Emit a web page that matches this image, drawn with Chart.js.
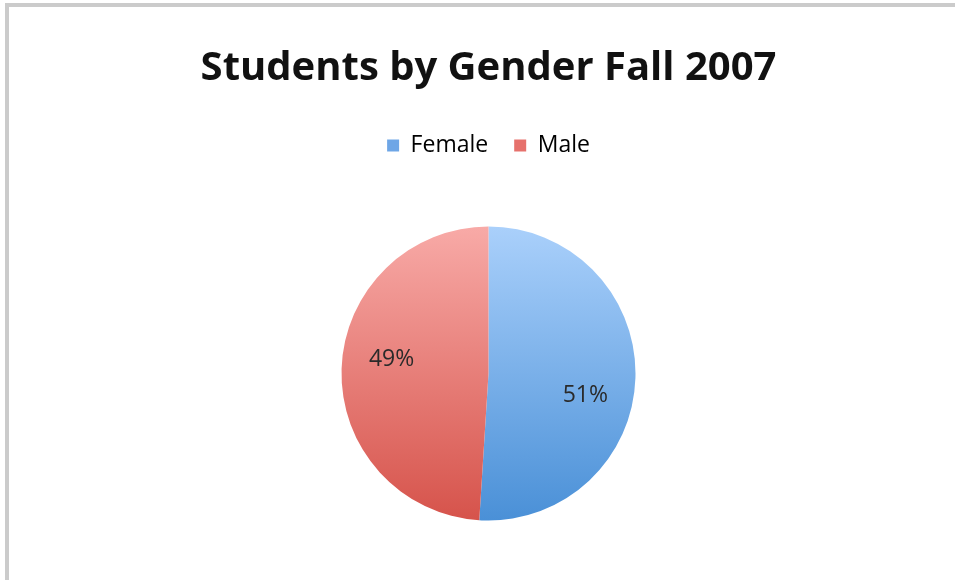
<!DOCTYPE html>
<html>
<head>
<meta charset="utf-8">
<script src="https://cdn.jsdelivr.net/npm/chart.js@4"></script>
<style>
  body { margin: 0; background: #fff; }
  #frame {
    position: absolute; left: 5px; top: 3px; width: 960px; height: 573px;
    border-top: 4px solid #cbcbcb; border-left: 4px solid #cbcbcb;
    border-bottom: 2px solid #e4e4e4;
  }
  #canvas { position: absolute; left: 0; top: 0; }
</style>
</head>
<body>
<div id="frame"></div>
<canvas id="canvas" width="955" height="580"></canvas>
<script>
var categories = ['Female', 'Male'];
var shares = [51, 49];
var topColors = ['#aad0fb', '#f8aaa7'];
var bottomColors = ['#4a90d7', '#d6534b'];
var legendColors = ['#6ea6e6', '#e6716c'];
var pieRadius = 147;

// fill each slice with a vertical gradient over the whole pie
var sliceFill = function(context){
    var chart = context.chart;
    var area = chart.chartArea;
    if (!area) return legendColors[context.dataIndex];
    var cy = (area.top + area.bottom) / 2;
    var g = chart.ctx.createLinearGradient(0, cy - pieRadius, 0, cy + pieRadius);
    g.addColorStop(0, topColors[context.dataIndex]);
    g.addColorStop(1, bottomColors[context.dataIndex]);
    return g;
};

// percent labels inside the slices
var pctLabels = {
    id: 'pctLabels',
    afterDatasetsDraw: function(chart){
        var ctx = chart.ctx;
        var meta = chart.getDatasetMeta(0);
        var total = shares.reduce(function(a, b){ return a + b; }, 0);
        ctx.save();
        ctx.font = '23px "Open Sans"';
        ctx.fillStyle = '#2a2a2a';
        ctx.textAlign = 'center';
        ctx.textBaseline = 'middle';
        meta.data.forEach(function(arc, i){
            var mid = (arc.startAngle + arc.endAngle) / 2 + 0.15;
            var r = arc.outerRadius * 0.67;
            var x = arc.x + Math.cos(mid) * r;
            var y = arc.y + Math.sin(mid) * r + 4;
            ctx.fillText(Math.round(shares[i] / total * 100) + '%', x, y);
        });
        ctx.restore();
    }
};

var ctx = document.getElementById('canvas').getContext('2d');
var chart = new Chart(ctx, {
    type: 'pie',
    data: {
        labels: categories,
        datasets: [{
            data: shares,
            backgroundColor: sliceFill,
            borderWidth: 0,
            radius: pieRadius
        }]
    },
    options: {
        responsive: false,
        animation: false,
        layout: { padding: { left: 22, top: 0, bottom: 0 } },
        plugins: {
            title: {
                display: true,
                text: 'Students by Gender Fall 2007',
                color: '#111',
                font: { family: 'Open Sans', size: 40, weight: 'bold' },
                padding: { top: 45, bottom: 15 }
            },
            legend: {
                position: 'top',
                labels: {
                    color: '#333',
                    font: { family: 'Open Sans', size: 23 },
                    boxWidth: 12,
                    boxHeight: 12,
                    padding: 26,
                    generateLabels: function(chart){
                        return categories.map(function(c, i){
                            return { text: c, fillStyle: legendColors[i], strokeStyle: legendColors[i], lineWidth: 0, index: i };
                        });
                    }
                }
            },
            tooltip: { enabled: false }
        }
    },
    plugins: [pctLabels]
});
</script>
</body>
</html>
